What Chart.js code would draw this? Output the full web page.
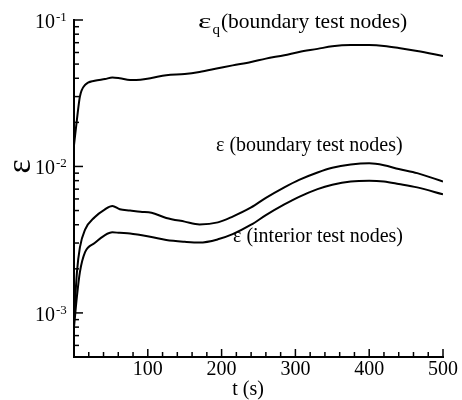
<!DOCTYPE html>
<html>
<head>
<meta charset="utf-8">
<script src="https://cdn.jsdelivr.net/npm/chart.js@4.4.0/dist/chart.umd.min.js"></script>
<style>
  html, body { margin: 0; padding: 0; background: #ffffff; }
  #chart { display: block; }
</style>
</head>
<body>
<canvas id="chart" width="462" height="400"></canvas>
<script>
// Error history (log y axis)

const times = [0, 4, 8, 15, 28, 42, 52, 62, 76, 90, 105, 125, 150, 170, 195, 215, 240, 260, 285, 305, 330, 350, 375, 400, 420, 440, 465, 500];

const epsQBoundary = [0.014, 0.021, 0.030, 0.036, 0.0385, 0.0395, 0.0405, 0.040, 0.0389, 0.0391, 0.0402, 0.0420, 0.0428, 0.0442, 0.0468, 0.049, 0.0517, 0.0545, 0.0575, 0.0605, 0.0635, 0.0662, 0.0675, 0.0674, 0.0665, 0.0645, 0.0615, 0.0568];

const epsBoundary = [0.0009, 0.0019, 0.0028, 0.0037, 0.0045, 0.0051, 0.00537, 0.0051, 0.0050, 0.0049, 0.00483, 0.00445, 0.0042, 0.00402, 0.00415, 0.00455, 0.00525, 0.0061, 0.0072, 0.0081, 0.0091, 0.0098, 0.0103, 0.0105, 0.0102, 0.0096, 0.0090, 0.0079];

const epsInterior = [0.0008, 0.0013, 0.0019, 0.0026, 0.0030, 0.0034, 0.00355, 0.00352, 0.00349, 0.0034, 0.0033, 0.00315, 0.00306, 0.00302, 0.00318, 0.00345, 0.0040, 0.00465, 0.0055, 0.0062, 0.0070, 0.0075, 0.0079, 0.0080, 0.0079, 0.0076, 0.0072, 0.00645];

// tick labels
const xTickLabels = [100, 200, 300, 400, 500];
const yTickValues = [1e-3, 1e-2, 1e-1];
const yTickExponents = ['-3', '-2', '-1'];

const SERIF = '"Liberation Serif", "DejaVu Serif", serif';

function toPoints(ys) {
    return times.map((t, i) => ({ x: t, y: ys[i] }));
}

function curve(label, ys) {
    return {
        label: label,
        data: toPoints(ys),
        borderColor: '#000000',
        borderWidth: 2,
        pointRadius: 0,
        fill: false,
        cubicInterpolationMode: 'monotone'
    };
}

// inward tick marks, y labels with exponents, titles and curve labels
const decorPlugin = {
    id: 'decor',
    afterDraw(chart) {
        const ctx = chart.ctx;
        const xs = chart.scales.x;
        const ys = chart.scales.y;
        const area = chart.chartArea;
        ctx.save();
        ctx.strokeStyle = '#000000';
        ctx.fillStyle = '#000000';
        ctx.lineWidth = 1.5;

        // x ticks (every 20, major every 100)
        xs.ticks.forEach(tk => {
            const px = xs.getPixelForValue(tk.value);
            const len = tk.value % 100 === 0 ? 8 : 5;
            ctx.beginPath();
            ctx.moveTo(px, area.bottom);
            ctx.lineTo(px, area.bottom - len);
            ctx.stroke();
        });

        // y ticks (1..9 per decade)
        for (let p = -4; p <= -1; p++) {
            for (let k = 1; k <= 9; k++) {
                const v = k * Math.pow(10, p);
                if (v < ys.min * 0.999 || v > ys.max * 1.001) continue;
                const py = ys.getPixelForValue(v);
                const len = k === 1 ? 9 : 5;
                ctx.beginPath();
                ctx.moveTo(area.left, py);
                ctx.lineTo(area.left + len, py);
                ctx.stroke();
            }
        }

        // y labels 10^n
        ctx.textBaseline = 'alphabetic';
        yTickValues.forEach((v, i) => {
            const py = ys.getPixelForValue(v);
            ctx.font = '20px ' + SERIF;
            ctx.textAlign = 'right';
            ctx.fillText('10', area.left - 19, py + 8);
            ctx.font = '13px ' + SERIF;
            ctx.textAlign = 'left';
            ctx.fillText(yTickExponents[i], area.left - 18, py + 1);
        });

        // y title (rotated epsilon)
        ctx.save();
        ctx.translate(30, ys.getPixelForValue(1e-2));
        ctx.rotate(-Math.PI / 2);
        ctx.font = '34px ' + SERIF;
        ctx.textAlign = 'center';
        ctx.fillText('ε', 0, 0);
        ctx.restore();

        // x title
        ctx.font = '20px ' + SERIF;
        ctx.textAlign = 'center';
        ctx.fillText('t (s)', 248, 395);

        // curve labels
        ctx.textAlign = 'left';
        ctx.font = '22px ' + SERIF;
        let x0 = 198;
        ctx.save();
        ctx.translate(x0, 28);
        ctx.scale(1.45, 1);
        ctx.fillText('ε', 0, 0);
        ctx.restore();
        x0 += ctx.measureText('ε').width * 1.45 + 1;
        ctx.font = '15px ' + SERIF;
        ctx.fillText('q', x0, 34);
        x0 += ctx.measureText('q').width + 1;
        ctx.font = '21.5px ' + SERIF;
        ctx.fillText('(boundary test nodes)', x0, 28);

        ctx.font = '20px ' + SERIF;
        ctx.fillText('ε (boundary test nodes)', 216, 151);
        ctx.fillText('ε (interior test nodes)', 233, 242);
        ctx.restore();
    }
};

new Chart(document.getElementById('chart'), {
    type: 'line',
    data: {
        datasets: [
            curve('εq (boundary test nodes)', epsQBoundary),
            curve('ε (boundary test nodes)', epsBoundary),
            curve('ε (interior test nodes)', epsInterior)
        ]
    },
    options: {
        responsive: false,
        animation: false,
        devicePixelRatio: 1,
        layout: {
            padding: { top: 20, right: 19, left: 0, bottom: 0 }
        },
        plugins: {
            legend: { display: false },
            tooltip: { enabled: false }
        },
        scales: {
            x: {
                type: 'linear',
                min: 0,
                max: 500,
                afterFit: scale => { scale.height = 43; },
                grid: { display: false, drawTicks: false },
                border: { display: true, color: '#000000', width: 2 },
                ticks: {
                    stepSize: 20,
                    autoSkip: false,
                    maxRotation: 0,
                    padding: 1,
                    color: '#000000',
                    font: { family: SERIF, size: 20 },
                    callback: value => xTickLabels.includes(value) ? String(value) : ''
                }
            },
            y: {
                type: 'logarithmic',
                min: 5e-4,
                max: 1e-1,
                afterFit: scale => { scale.width = 74; },
                grid: { display: false, drawTicks: false },
                border: { display: true, color: '#000000', width: 2 },
                ticks: { display: false }
            }
        }
    },
    plugins: [decorPlugin]
});
</script>
</body>
</html>
